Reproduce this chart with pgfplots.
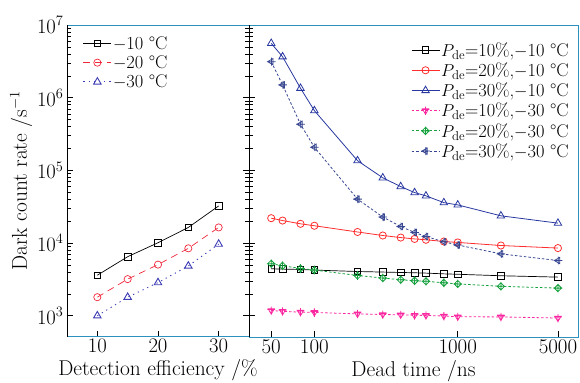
\documentclass[border=0pt]{standalone}
\usepackage{fontspec}
\usepackage{pgfplots}
\pgfplotsset{compat=1.18}
\usepackage{pgfplotstable}
\definecolor{framecol}{RGB}{45,145,190}
\definecolor{cred}{RGB}{240,40,60}
\definecolor{cblue}{RGB}{60,60,180}
\definecolor{rred}{RGB}{255,45,45}
\definecolor{rblue}{RGB}{40,55,160}
\definecolor{rmag}{RGB}{250,40,160}
\definecolor{rgreen}{RGB}{20,160,60}
\definecolor{rslate}{RGB}{55,70,145}

\pgfdeclareplotmark{dtriplus}{%
  \pgfpathmoveto{\pgfqpointpolar{-90}{\pgfplotmarksize}}%
  \pgfpathlineto{\pgfqpointpolar{30}{\pgfplotmarksize}}%
  \pgfpathlineto{\pgfqpointpolar{150}{\pgfplotmarksize}}%
  \pgfpathclose
  \pgfpathmoveto{\pgfqpoint{0pt}{-1.2\pgfplotmarksize}}\pgfpathlineto{\pgfqpoint{0pt}{1.1\pgfplotmarksize}}%
  \pgfpathmoveto{\pgfqpoint{-1.1\pgfplotmarksize}{0.3\pgfplotmarksize}}\pgfpathlineto{\pgfqpoint{1.1\pgfplotmarksize}{0.3\pgfplotmarksize}}%
  \pgfusepathqstroke}
\pgfdeclareplotmark{diaplus}{%
  \pgfpathmoveto{\pgfqpoint{0pt}{\pgfplotmarksize}}%
  \pgfpathlineto{\pgfqpoint{\pgfplotmarksize}{0pt}}%
  \pgfpathlineto{\pgfqpoint{0pt}{-\pgfplotmarksize}}%
  \pgfpathlineto{\pgfqpoint{-\pgfplotmarksize}{0pt}}%
  \pgfpathclose
  \pgfpathmoveto{\pgfqpoint{0pt}{-1.2\pgfplotmarksize}}\pgfpathlineto{\pgfqpoint{0pt}{1.2\pgfplotmarksize}}%
  \pgfpathmoveto{\pgfqpoint{-1.2\pgfplotmarksize}{0pt}}\pgfpathlineto{\pgfqpoint{1.2\pgfplotmarksize}{0pt}}%
  \pgfusepathqstroke}
\pgfdeclareplotmark{ltriplus}{%
  \pgfpathmoveto{\pgfqpointpolar{180}{\pgfplotmarksize}}%
  \pgfpathlineto{\pgfqpointpolar{-60}{\pgfplotmarksize}}%
  \pgfpathlineto{\pgfqpointpolar{60}{\pgfplotmarksize}}%
  \pgfpathclose
  \pgfpathmoveto{\pgfqpoint{-1.2\pgfplotmarksize}{0pt}}\pgfpathlineto{\pgfqpoint{1.2\pgfplotmarksize}{0pt}}%
  \pgfpathmoveto{\pgfqpoint{0.1\pgfplotmarksize}{-1.1\pgfplotmarksize}}\pgfpathlineto{\pgfqpoint{0.1\pgfplotmarksize}{1.1\pgfplotmarksize}}%
  \pgfusepathqstroke}

\pgfplotstableread{
eff  m10   m20   m30
10   3610  1800  1000
15   6490  3190  1800
20   10100 5050  2860
25   16400 8460  4840
30   32400 16400 9690
}\lefttab

\pgfplotstableread{
t    sa    sb     sc      sd    se    sf
50   4430  22000  5600000 1180  5190  3130000
60   4380  20400  3660000 1150  4870  1500000
80   4330  18400  1350000 1120  4470  431000
100  4250  17300  664000  1110  4250  208000
200  4060  14200  136000  1060  3580  40200
300  3990  12700  79000   1040  3300  22800
400  3940  11900  59900   1030  3130  16900
500  3900  11400  49500   1015  3030  14000
600  3860  11100  44600   1010  2980  12300
800  3770  10500  36000   991   2840  10400
1000 3720  10200  33500   969   2740  9400
2000 3550  9250   23700   963   2540  7100
5000 3400  8530   18800   930   2400  5750
}\righttab

\begin{document}
\begin{tikzpicture}
\path[use as bounding box] (-67bp,-46bp) rectangle (513bp,337bp);
\pgfplotsset{
  every axis/.append style={
    scale only axis,
    height=312bp,
    ymode=log, ymin=510, ymax=1e7,
    ytick={1e3,1e4,1e5,1e6,1e7},
    tick align=inside,
    major tick length=6bp,
    minor tick length=4bp,
    every tick/.style={black, line width=0.6pt},
    axis line style={draw=framecol, line width=1pt},
    tick label style={font=\fontsize{21}{23}\selectfont},
    label style={font=\fontsize{21.5}{24}\selectfont},
    xticklabel style={yshift=1bp},
    legend style={font=\fontsize{18.5}{20}\selectfont, draw=none, fill=none, row sep=2.5bp,
      nodes={inner sep=1.2bp}},
    legend cell align=left,
    legend image code/.code={\draw[mark repeat=2,mark phase=2] plot coordinates {(0bp,0bp)(14bp,0bp)(28bp,0bp)};},
  }
}
\begin{axis}[name=L, at={(0,0)}, anchor=south west,
  width=182bp,
  xmin=5, xmax=35, xtick={10,20,30},
  xtick pos=bottom, ytick pos=both,
  xlabel={Detection efficiency /\%},
  ylabel={Dark count rate /s$^{-1}$},
  ylabel style={yshift=-2bp},
  legend style={at={(0.07,0.975)}, anchor=north west},
]
\addplot[black, line width=0.7pt, mark=square, mark size=3.3bp, mark options={solid}] table[x=eff,y=m10] {\lefttab};
\addlegendentry{$-$10 \textdegree C}
\addplot[cred, line width=0.7pt, dash pattern=on 7bp off 5bp, mark=o, mark size=3.6bp, mark options={solid}] table[x=eff,y=m20] {\lefttab};
\addlegendentry{$-$20 \textdegree C}
\addplot[cblue, line width=0.9pt, dash pattern=on 1.2bp off 4bp, mark=triangle, mark size=4.3bp, mark options={solid}] table[x=eff,y=m30] {\lefttab};
\addlegendentry{$-$30 \textdegree C}
\end{axis}
\begin{axis}[name=R, at={(182bp,0)}, anchor=south west,
  width=329bp,
  xmode=log, xmin=35, xmax=6900,
  xtick={50,100,1000,5000}, xticklabels={50,100,1000,5000},
  minor xtick={},
  xtick pos=bottom, ytick pos=left,
  yticklabels={},
  xlabel={Dead time /ns},
  legend style={at={(0.985,0.955)}, anchor=north east},
]
\addplot[black, line width=0.7pt, mark=square, mark size=3.3bp, mark options={solid}] table[x=t,y=sa] {\righttab};
\addlegendentry{$P_{\mathrm{de}}$=10\%,$-$10 \textdegree C}
\addplot[rred, line width=0.8pt, mark=o, mark size=3.6bp, mark options={solid}] table[x=t,y=sb] {\righttab};
\addlegendentry{$P_{\mathrm{de}}$=20\%,$-$10 \textdegree C}
\addplot[rblue, line width=0.8pt, mark=triangle, mark size=4.3bp, mark options={solid}] table[x=t,y=sc] {\righttab};
\addlegendentry{$P_{\mathrm{de}}$=30\%,$-$10 \textdegree C}
\addplot[rmag, line width=0.8pt, dash pattern=on 2.5bp off 2bp, mark=dtriplus, mark size=3.6bp, mark options={solid}] table[x=t,y=sd] {\righttab};
\addlegendentry{$P_{\mathrm{de}}$=10\%,$-$30 \textdegree C}
\addplot[rgreen, line width=0.8pt, dash pattern=on 2.5bp off 2bp, mark=diaplus, mark size=3.6bp, mark options={solid}] table[x=t,y=se] {\righttab};
\addlegendentry{$P_{\mathrm{de}}$=20\%,$-$30 \textdegree C}
\addplot[rslate, line width=0.8pt, dash pattern=on 2.5bp off 2bp, mark=ltriplus, mark size=3.6bp, mark options={solid}] table[x=t,y=sf] {\righttab};
\addlegendentry{$P_{\mathrm{de}}$=30\%,$-$30 \textdegree C}
\end{axis}
\draw[black, line width=1pt] (L.south west) -- (L.north west);
\draw[black, line width=1pt] (L.south east) -- (L.north east);
\end{tikzpicture}
\end{document}
